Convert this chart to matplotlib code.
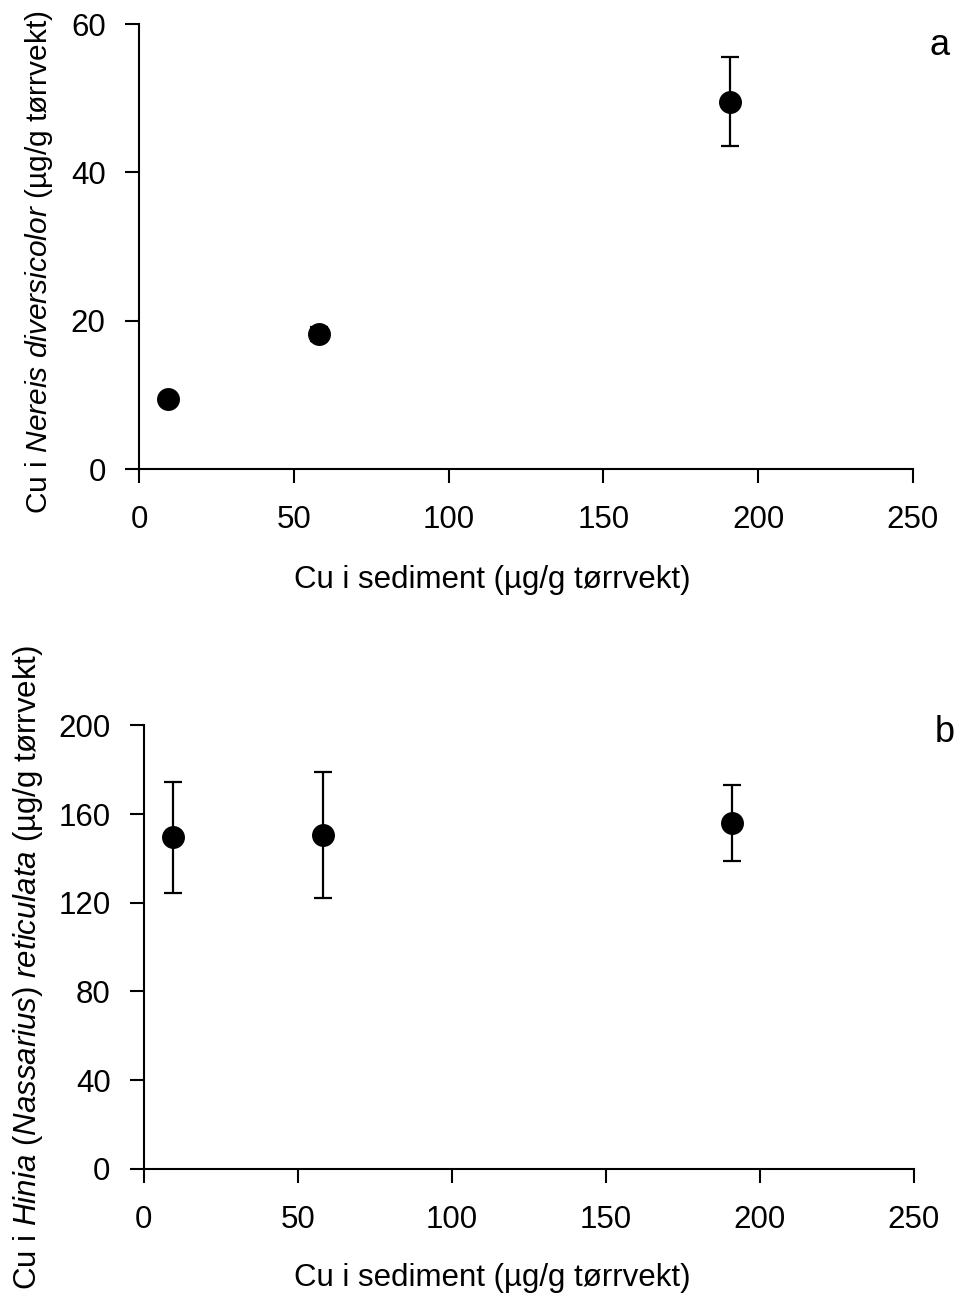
import matplotlib
matplotlib.use('Agg')
from matplotlib import pyplot as plt

plt.rcParams['font.family'] = ['Liberation Sans', 'DejaVu Sans']
plt.rcParams['mathtext.fontset'] = 'custom'
plt.rcParams['mathtext.rm'] = 'Liberation Sans'
plt.rcParams['mathtext.it'] = 'Liberation Sans:italic'

# sediment Cu (x), same stations in both panels
sediment = [9.5, 58, 191]

# panel a: Nereis diversicolor
nereis = [9.5, 18.2, 49.5]
nereis_err = [0.5, 1.0, 6.0]

# panel b: Hinia (Nassarius) reticulata
hinia = [149.5, 150.5, 156]
hinia_err = [25, 28.5, 17]

xticks = [0, 50, 100, 150, 200, 250]
yticks_a = [0, 20, 40, 60]
yticks_b = [0, 40, 80, 120, 160, 200]

FS = 22.5
xlabel = 'Cu i sediment (µg/g tørrvekt)'
ylabel_a = r'Cu i $\it{Nereis\ diversicolor}$ (µg/g tørrvekt)'
ylabel_b = r'Cu i $\it{Hinia\ (Nassarius)\ reticulata}$ (µg/g tørrvekt)'


def style(ax, yticks, ylim):
    ax.spines['top'].set_visible(False)
    ax.spines['right'].set_visible(False)
    for s in ('left', 'bottom'):
        ax.spines[s].set_linewidth(1.5)
    ax.set_xlim(0, 250)
    ax.set_ylim(*ylim)
    ax.set_xticks(xticks)
    ax.set_yticks(yticks)
    ax.tick_params(direction='out', length=10, width=1.5, pad=14, labelsize=FS)
    ax.tick_params(axis='x', pad=16)


def panel(ax, ys, err, yticks, ylim, ylabel, yfs, xlc, ylc):
    ax.errorbar(sediment, ys, yerr=err, fmt='o', color='black', ms=15.5,
                elinewidth=1.6, capsize=6.5, capthick=1.6, clip_on=False)
    style(ax, yticks, ylim)
    ax.set_xlabel(xlabel, fontsize=FS)
    ax.set_ylabel(ylabel, fontsize=yfs)
    ax.xaxis.set_label_coords(*xlc)
    ax.yaxis.set_label_coords(*ylc)


fig = plt.figure(figsize=(9.59, 13.01), dpi=100)
ax1 = fig.add_axes([0.145, 0.6395, 0.807, 0.342])
ax2 = fig.add_axes([0.150, 0.1015, 0.803, 0.341])

panel(ax1, nereis, nereis_err, yticks_a, (0, 60), ylabel_a, 21.5,
      (0.457, -0.215), (-0.109, 0.465))
panel(ax2, hinia, hinia_err, yticks_b, (0, 200), ylabel_b, 22.5,
      (0.453, -0.212), (-0.129, 0.453))

fig.text(0.98, 0.965, 'a', fontsize=26, ha='center', va='center')
fig.text(0.985, 0.437, 'b', fontsize=26, ha='center', va='center')

fig.savefig('out.png', dpi=100)
